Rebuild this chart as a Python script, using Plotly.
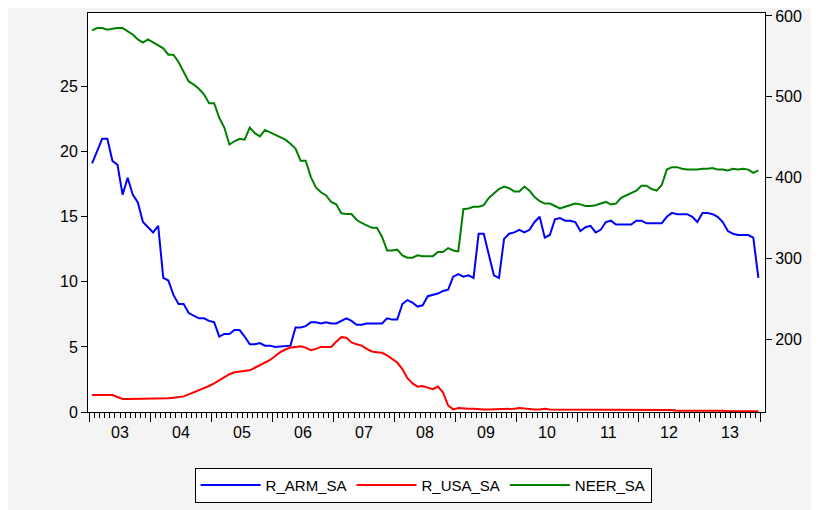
import plotly.graph_objects as go

# monthly series, Jan 2003 .. Dec 2013 (index 0..131)
r_arm_sa = [19.1, 20.0, 21.0, 21.0, 19.3, 19.0, 16.7, 18.0, 16.7, 16.1, 14.6, 14.2,
            13.8, 14.3, 10.3, 10.1, 9.0, 8.3, 8.3, 7.6, 7.4, 7.2, 7.2, 7.0,
            6.9, 5.8, 6.0, 6.0, 6.3, 6.3, 5.8, 5.2, 5.2, 5.3, 5.1, 5.1,
            5.0, 5.05, 5.1, 5.1, 6.5, 6.5, 6.6, 6.9, 6.9, 6.8, 6.9, 6.8,
            6.8, 7.0, 7.2, 7.0, 6.7, 6.7, 6.8, 6.8, 6.8, 6.8, 7.2, 7.1,
            7.1, 8.3, 8.6, 8.4, 8.1, 8.2, 8.9, 9.0, 9.1, 9.3, 9.4, 10.4,
            10.6, 10.4, 10.5, 10.3, 13.7, 13.7, 12.2, 10.5, 10.3, 13.3, 13.7, 13.8,
            14.0, 13.8, 14.0, 14.6, 15.0, 13.4, 13.6, 14.8, 14.9, 14.7, 14.7, 14.6,
            13.9, 14.2, 14.3, 13.8, 14.0, 14.6, 14.7, 14.4, 14.4, 14.4, 14.4, 14.7,
            14.7, 14.5, 14.5, 14.5, 14.5, 15.0, 15.3, 15.2, 15.2, 15.2, 15.0, 14.6,
            15.3, 15.3, 15.2, 15.0, 14.6, 13.9, 13.7, 13.6, 13.6, 13.6, 13.4, 10.3]

r_usa_sa = [1.3, 1.3, 1.3, 1.3, 1.3, 1.15, 1.0, 1.0, 1.0, 1.0, 1.0, 1.0,
            1.0, 1.0, 1.0, 1.05, 1.1, 1.15, 1.2, 1.35, 1.5, 1.65, 1.8, 2.0,
            2.2, 2.45, 2.7, 2.9, 3.05, 3.1, 3.15, 3.2, 3.4, 3.6, 3.8, 4.0,
            4.3, 4.6, 4.8, 4.95, 5.0, 5.05, 4.95, 4.75, 4.85, 5.0, 5.0, 5.0,
            5.4, 5.75, 5.7, 5.35, 5.2, 5.1, 4.85, 4.65, 4.6, 4.55, 4.35, 4.1,
            3.8, 3.3, 2.6, 2.2, 1.95, 2.0, 1.85, 1.75, 1.95, 1.5, 0.5, 0.2,
            0.3, 0.25, 0.25, 0.25, 0.2, 0.2, 0.2, 0.2, 0.25, 0.25, 0.25, 0.25,
            0.3, 0.25, 0.25, 0.2, 0.2, 0.25, 0.2, 0.2, 0.2, 0.2, 0.2, 0.2,
            0.15, 0.15, 0.15, 0.15, 0.15, 0.15, 0.15, 0.15, 0.15, 0.15, 0.2, 0.15,
            0.15, 0.2, 0.15, 0.15, 0.15, 0.15, 0.15, 0.1, 0.1, 0.15, 0.1, 0.1,
            0.1, 0.15, 0.1, 0.1, 0.1, 0.05, 0.05, 0.1, 0.05, 0.1, 0.05, 0.05]

neer_sa = [582, 585, 585, 583, 584, 585, 585, 581, 577, 571, 567, 571,
           567, 564, 560, 552, 552, 543, 530, 519, 515, 510, 503, 492,
           492, 474, 462, 441, 445, 448, 447, 462, 455, 451, 459, 456,
           453, 451, 447, 442, 436, 421, 421, 401, 388, 382, 378, 370,
           367, 356, 355, 355, 348, 344, 341, 338, 338, 327, 310, 310,
           311, 304, 301, 301, 304, 303, 303, 303, 308, 308, 313, 310,
           309, 361, 362, 364, 364, 366, 375, 381, 386, 389, 387, 383,
           383, 389, 384, 376, 371, 368, 368, 365, 362, 364, 366, 368,
           367, 365, 365, 366, 368, 370, 367, 368, 375, 378, 382, 384,
           390, 390, 386, 384, 391, 410, 413, 413, 411, 410, 410, 410,
           411, 411, 412, 410, 410, 409, 411, 410, 411, 410, 406, 409]

year_labels = ["03", "04", "05", "06", "07", "08", "09", "10", "11", "12", "13"]

idx = list(range(len(r_arm_sa)))
font = "Liberation Sans, Arial, sans-serif"

fig = go.Figure()
fig.add_trace(go.Scatter(x=idx, y=r_arm_sa, name="R_ARM_SA", mode="lines",
                         line=dict(color="#0000ff", width=2)))
fig.add_trace(go.Scatter(x=idx, y=r_usa_sa, name="R_USA_SA", mode="lines",
                         line=dict(color="#ff0000", width=2)))
fig.add_trace(go.Scatter(x=idx, y=neer_sa, name="NEER_SA", mode="lines", yaxis="y2",
                         line=dict(color="#008000", width=2)))

boundaries = [-0.5 + 12 * k for k in range(len(year_labels) + 1)]
for k, lab in enumerate(year_labels):
    fig.add_annotation(x=5.5 + 12 * k, y=0, xref="x", yref="paper", yshift=-10,
                       yanchor="top", text=lab, showarrow=False,
                       font=dict(size=16, color="black", family=font))

fig.update_layout(
    width=811, height=502,
    paper_bgcolor="#f4f4f4", plot_bgcolor="white",
    margin=dict(l=80, r=54, t=0, b=98),
    font=dict(family=font, size=16, color="black"),
    xaxis=dict(range=[-0.8, 132.3], tickvals=boundaries, showticklabels=False,
               ticks="outside", ticklen=9, tickcolor="black", showgrid=False,
               zeroline=False, showline=True, linecolor="black", mirror=True,
               minor=dict(dtick=1, tick0=-0.5, ticks="outside", ticklen=5, tickcolor="black")),
    yaxis=dict(range=[0, 30.66], tickvals=[0, 5, 10, 15, 20, 25], ticks="outside",
               ticklen=6, tickcolor="black", showgrid=False, zeroline=False,
               showline=True, linecolor="black", mirror=True),
    yaxis2=dict(range=[110.3, 603.6], tickvals=[200, 300, 400, 500, 600], overlaying="y",
                side="right", ticks="outside", ticklen=6, tickcolor="black",
                ticklabeloverflow="allow",
                showgrid=False, zeroline=False, showline=True, linecolor="black"),
    legend=dict(orientation="h", x=0.495, xanchor="center", y=-0.14, yanchor="top",
                bordercolor="black", borderwidth=1, bgcolor="white",
                font=dict(size=15), itemwidth=60),
)

fig.write_html("out.html")
